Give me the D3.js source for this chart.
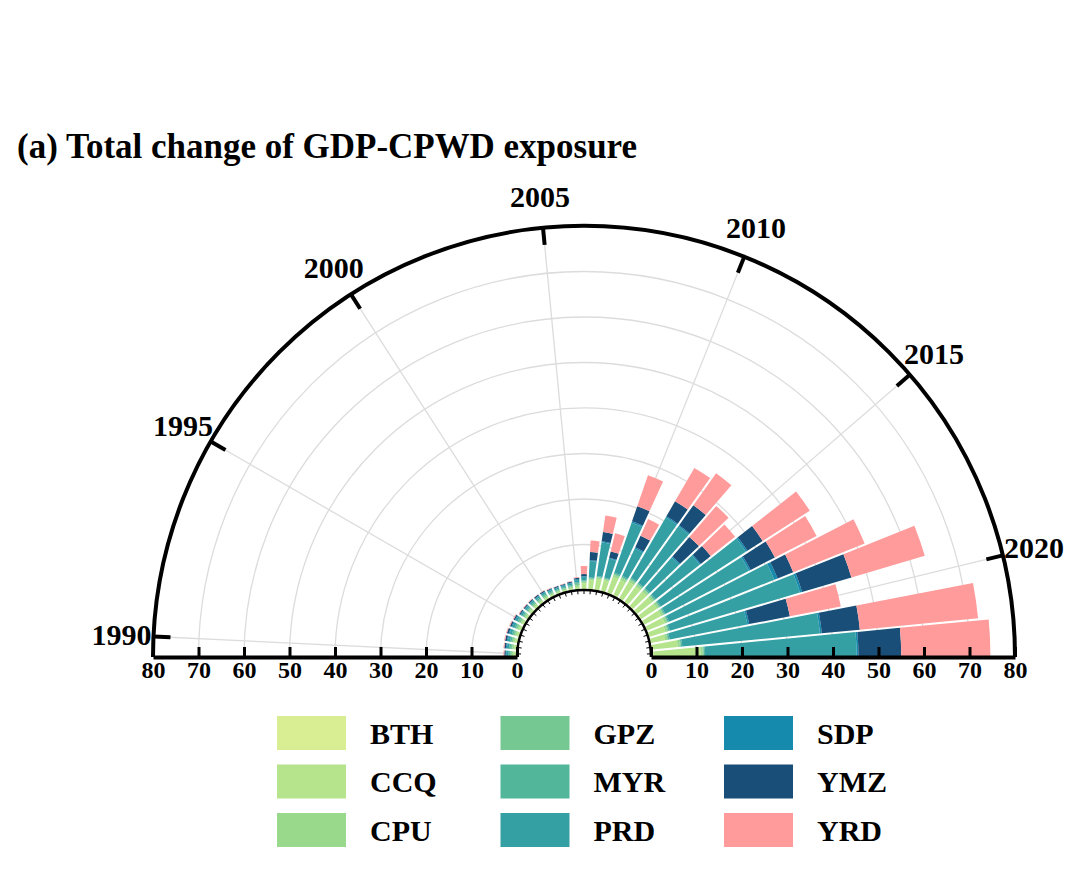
<!DOCTYPE html>
<html>
<head>
<meta charset="utf-8">
<script src="https://cdn.jsdelivr.net/npm/d3@7"></script>
<style>
  body { margin: 0; background: #fff; }
  text { font-family: "Liberation Serif", "Times New Roman", serif; font-weight: bold; fill: #000; }
</style>
</head>
<body>
<script>
// years on the angular axis
var years = [1990, 1991, 1992, 1993, 1994, 1995, 1996, 1997, 1998, 1999, 2000,
             2001, 2002, 2003, 2004, 2005, 2006, 2007, 2008, 2009, 2010, 2011,
             2012, 2013, 2014, 2015, 2016, 2017, 2018, 2019, 2020, 2021, 2022];
var yearTicks = [1990, 1995, 2000, 2005, 2010, 2015, 2020];
var radialTicks = [0, 10, 20, 30, 40, 50, 60, 70, 80];

var keys = ["BTH", "CCQ", "CPU", "GPZ", "MYR", "PRD", "SDP", "YMZ", "YRD"];
var colors = ["#d9ed92", "#b5e48c", "#99d98c", "#76c893", "#52b69a", "#34a0a4", "#168aad", "#184e77", "#ff9b9b"];

// exposure change by region, 1990-2022
var BTH = [0.35, 0.35, 0.35, 0.35, 0.35, 0.35, 0.3, 0.3, 0.3, 0.3, 0.3, 0.25, 0.25, 0.25, 0.25, 0.3,
           0.3, 0.3, 0.3, 0.3, 0.4, 0.4, 0.4, 0.4, 0.4, 0.4, 0.4, 0.4, 0.4, 0.4, 0.3, 0.4, 0.5];
var CCQ = [0.45, 0.45, 0.5, 0.5, 0.45, 0.45, 0.4, 0.4, 0.4, 0.35, 0.35, 0.35, 0.3, 0.3, 0.35, 0.45,
           1.2, 1.9, 2.4, 2.4, 3.6, 3.6, 4.1, 4.1, 4.1, 4.1, 4.1, 4.1, 4.1, 3.6, 3.2, 5.6, 10.4];
var CPU = [0.35, 0.35, 0.35, 0.35, 0.35, 0.35, 0.3, 0.3, 0.3, 0.3, 0.3, 0.25, 0.25, 0.25, 0.25, 0.35,
           0.3, 0.3, 0.3, 0.3, 0.5, 0.5, 0.5, 0.5, 0.5, 0.5, 0.5, 0.5, 0.5, 0.5, 0.5, 0.5, 0.5];
var GPZ = [0.35, 0.35, 0.35, 0.35, 0.35, 0.35, 0.3, 0.3, 0.3, 0.3, 0.3, 0.25, 0.2, 0.2, 0.25, 0.35,
           0.1, 0.1, 0.1, 0.1, 0.2, 0.2, 0.2, 0.2, 0.2, 0.2, 0.2, 0.2, 0.2, 0.2, 0.2, 0.2, 0.2];
var MYR = [0.35, 0.35, 0.35, 0.35, 0.35, 0.35, 0.3, 0.3, 0.3, 0.3, 0.3, 0.25, 0.25, 0.25, 0.25, 0.35,
           0.2, 0.2, 0.2, 0.2, 0.3, 0.3, 0.3, 0.3, 0.3, 0.3, 0.3, 0.3, 0.3, 0.3, 0.3, 0.3, 0.3];
var PRD = [0.45, 0.5, 0.5, 0.5, 0.5, 0.45, 0.35, 0.35, 0.35, 0.35, 0.35, 0.35, 0.3, 0.3, 0.35, 0.45,
           0.8, 3.6, 7.5, 4.3, 11.6, 6.6, 15.3, 15.2, 8.9, 12.3, 22.2, 20.7, 24.9, 29.8, 17.4, 30.4, 33.3];
var SDP = [0.2, 0.2, 0.2, 0.2, 0.2, 0.2, 0.15, 0.15, 0.15, 0.15, 0.15, 0.15, 0.15, 0.15, 0.15, 0.2,
           0.1, 0.2, 0.2, 0.2, 0.3, 0.3, 0.3, 0.3, 0.3, 0.3, 0.4, 0.4, 0.8, 0.5, 0.4, 0.4, 0.4];
var YMZ = [0.3, 0.35, 0.4, 0.4, 0.35, 0.3, 0.25, 0.25, 0.25, 0.25, 0.25, 0.2, 0.2, 0.2, 0.2, 0.25,
           0.5, 1.8, 2.05, 1.4, 3.5, 2.8, 3.8, 5.4, 5.7, 2.8, 4.0, 6.0, 3.7, 11.3, 9.1, 8.4, 9.4];
var YRD = [0.2, 0.2, 0.2, 0.2, 0.2, 0.2, 0.15, 0.15, 0.15, 0.1, 0.1, 0.15, 0.1, 0.1, 0.15, 0.2,
           1.8, 2.5, 3.65, 4.1, 7.2, 4.0, 8.5, 8.6, 9.0, 6.8, 12.3, 10.3, 16.9, 16.8, 11.4, 26.1, 19.6];

var seriesValues = [BTH, CCQ, CPU, GPZ, MYR, PRD, SDP, YMZ, YRD];

// build rows for d3.stack
var table = years.map(function (y, i) {
    var row = { year: y };
    keys.forEach(function (k, j) { row[k] = seriesValues[j][i]; });
    return row;
});
var stacked = d3.stack().keys(keys)(table);

var W = 1080, H = 891;
var cx = 584, cy = 657;
var innerR = 67, outerR = 431;

var svg = d3.select("body").append("svg")
    .attr("width", W)
    .attr("height", H);

// title
svg.append("text")
    .attr("x", 17)
    .attr("y", 158)
    .attr("textLength", 620)
    .attr("lengthAdjust", "spacingAndGlyphs")
    .style("font-size", "36px")
    .text("(a) Total change of GDP-CPWD exposure");

var g = svg.append("g")
    .attr("transform", "translate(" + cx + "," + cy + ")");

// scales
var x = d3.scaleBand()
    .domain(years)
    .range([-Math.PI / 2, Math.PI / 2])
    .padding(0);
var r = d3.scaleLinear()
    .domain([0, 80])
    .range([innerR, outerR]);

function mid(y) { return x(y) + x.bandwidth() / 2; }

// circular gridlines
var ring = d3.arc().startAngle(-Math.PI / 2).endAngle(Math.PI / 2);
g.append("g").selectAll("path")
    .data([10, 20, 30, 40, 50, 60, 70])
    .join("path")
    .attr("d", function (v) { return ring({ innerRadius: r(v), outerRadius: r(v) }); })
    .attr("fill", "none")
    .attr("stroke", "#dcdcdc")
    .attr("stroke-width", 1.3);

// radial gridlines
g.append("g").selectAll("line")
    .data(yearTicks)
    .join("line")
    .attr("x1", function (y) { return r(0) * Math.sin(mid(y)); })
    .attr("y1", function (y) { return -r(0) * Math.cos(mid(y)); })
    .attr("x2", function (y) { return r(80) * Math.sin(mid(y)); })
    .attr("y2", function (y) { return -r(80) * Math.cos(mid(y)); })
    .attr("stroke", "#dcdcdc")
    .attr("stroke-width", 1.3);

// stacked bars
var arc = d3.arc()
    .innerRadius(function (d) { return r(d[0]); })
    .outerRadius(function (d) { return r(d[1]); })
    .startAngle(function (d) { return x(d.data.year); })
    .endAngle(function (d) { return x(d.data.year) + x.bandwidth(); })
    .padAngle(0.017)
    .padRadius(120);

g.append("g").selectAll("g")
    .data(stacked)
    .join("g")
    .attr("fill", function (d, i) { return colors[i]; })
    .selectAll("path")
    .data(function (d) { return d; })
    .join("path")
    .attr("d", arc);

// outer frame and inner circle
g.append("path")
    .attr("d", ring({ innerRadius: outerR, outerRadius: outerR }))
    .attr("fill", "none")
    .attr("stroke", "#000")
    .attr("stroke-width", 4);
g.append("path")
    .attr("d", ring({ innerRadius: innerR, outerRadius: innerR }))
    .attr("fill", "none")
    .attr("stroke", "#000")
    .attr("stroke-width", 2.5);

// small ticks on the inner circle
g.append("g").selectAll("line")
    .data(years)
    .join("line")
    .attr("x1", function (y) { return innerR * Math.sin(mid(y)); })
    .attr("y1", function (y) { return -innerR * Math.cos(mid(y)); })
    .attr("x2", function (y) { return (innerR - 4) * Math.sin(mid(y)); })
    .attr("y2", function (y) { return -(innerR - 4) * Math.cos(mid(y)); })
    .attr("stroke", "#000")
    .attr("stroke-width", 1);

// year ticks on the outer frame
g.append("g").selectAll("line")
    .data(yearTicks)
    .join("line")
    .attr("x1", function (y) { return (outerR - 17) * Math.sin(mid(y)); })
    .attr("y1", function (y) { return -(outerR - 17) * Math.cos(mid(y)); })
    .attr("x2", function (y) { return outerR * Math.sin(mid(y)); })
    .attr("y2", function (y) { return -outerR * Math.cos(mid(y)); })
    .attr("stroke", "#000")
    .attr("stroke-width", 4);

// year labels
g.append("g").selectAll("text")
    .data(yearTicks)
    .join("text")
    .attr("x", function (y) { return 463 * Math.sin(mid(y)); })
    .attr("y", function (y) { return -463 * Math.cos(mid(y)); })
    .attr("text-anchor", "middle")
    .attr("dominant-baseline", "central")
    .style("font-size", "30px")
    .text(function (y) { return y; });

// radial value axes along the baseline, both sides
var rRight = d3.scaleLinear().domain([0, 80]).range([innerR, outerR]);
var rLeft = d3.scaleLinear().domain([0, 80]).range([-innerR, -outerR]);

[rRight, rLeft].forEach(function (s) {
    var ax = g.append("g")
        .call(d3.axisBottom(s)
            .tickValues(radialTicks)
            .tickSizeInner(-10)
            .tickSizeOuter(0)
            .tickPadding(4));
    ax.select(".domain").attr("stroke-width", 4);
    ax.selectAll(".tick line").attr("stroke-width", 3);
    ax.selectAll(".tick text")
        .style("font-family", "'Liberation Serif', 'Times New Roman', serif")
        .style("font-weight", "bold")
        .style("font-size", "24px");
});

// legend
var legend = svg.append("g");
keys.forEach(function (k, i) {
    var col = Math.floor(i / 3), row = i % 3;
    var lx = 277 + col * 223.5, ly = 716 + row * 48.5;
    legend.append("rect")
        .attr("x", lx)
        .attr("y", ly)
        .attr("width", 69)
        .attr("height", 34)
        .attr("fill", colors[i]);
    legend.append("text")
        .attr("x", lx + 93)
        .attr("y", ly + 17)
        .attr("dominant-baseline", "central")
        .style("font-size", "30px")
        .text(k);
});
</script>
</body>
</html>
